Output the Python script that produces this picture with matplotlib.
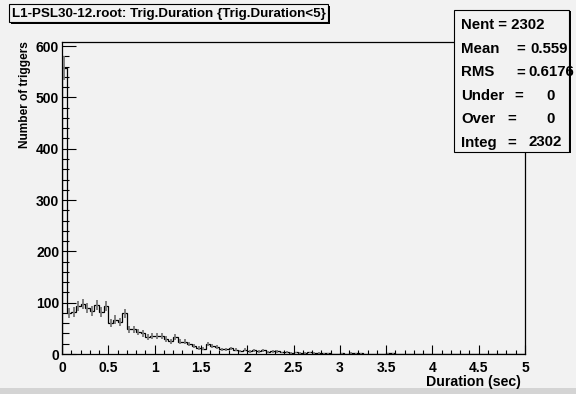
"""Trigger duration histogram for L1-PSL30-12, drawn in the ROOT canvas style."""
import numpy as np
import matplotlib
matplotlib.use("Agg")
import matplotlib.pyplot as plt
from matplotlib.patches import Rectangle
from matplotlib.ticker import MultipleLocator

W, H = 576, 394
BG = "#f2f2f2"
FONT = "Liberation Sans"

# 100 bins of 0.05 sec between 0 and 5
bin_lo = 0.0
bin_hi = 5.0
n_bins = 100
counts = [
    557, 80, 82, 93, 97, 90, 84, 95, 82, 93,
    60, 67, 62, 79, 48, 48, 43, 40, 34, 35,
    35, 35, 29, 25, 34, 24, 24, 19, 16, 12,
    10, 19, 16, 14, 9, 9, 11, 8, 6, 8,
    5, 7, 5, 7, 4, 5, 5, 3, 4, 2,
    3, 2, 2, 3, 2, 2, 1, 1, 0, 0,
    1, 0, 2, 1, 1, 0, 0, 0, 0, 0,
    1, 1, 0, 0, 0, 0, 0, 0, 0, 0,
    0, 0, 0, 0, 0, 0, 0, 0, 0, 0,
    0, 0, 0, 0, 0, 0, 0, 0, 0, 0,
]
x_ticks = [0, 0.5, 1, 1.5, 2, 2.5, 3, 3.5, 4, 4.5, 5]
x_tick_labels = ["0", "0.5", "1", "1.5", "2", "2.5", "3", "3.5", "4", "4.5", "5"]
y_ticks = [0, 100, 200, 300, 400, 500, 600]

title = "L1-PSL30-12.root: Trig.Duration {Trig.Duration<5}"
stats = [
    ("Mean", "0.559"),
    ("RMS", "0.6176"),
    ("Under", "0"),
    ("Over", "0"),
    ("Integ", "2302"),
]
n_entries = 2302


def fx(x):
    return x / W


def fy(y):
    return 1 - y / H


def box(fig, left, top, right, bottom, shadow=2):
    # ROOT-style pave: black shadow offset down/right, then the framed box
    fig.add_artist(Rectangle((fx(left + shadow), fy(bottom + shadow)),
                             (right - left) / W, (bottom - top) / H,
                             transform=fig.transFigure, facecolor="black",
                             edgecolor="none", zorder=10))
    fig.add_artist(Rectangle((fx(left), fy(bottom)),
                             (right - left) / W, (bottom - top) / H,
                             transform=fig.transFigure, facecolor=BG,
                             edgecolor="black", linewidth=0.8, zorder=11))


plt.rcParams["font.family"] = [FONT, "DejaVu Sans"]
plt.rcParams["font.weight"] = "bold"

fig = plt.figure(figsize=(W / 100, H / 100), dpi=100)
fig.patch.set_facecolor(BG)

ax = fig.add_axes([fx(62), fy(354), (525 - 62) / W, (354 - 42) / H])
ax.set_facecolor(BG)

edges = np.linspace(bin_lo, bin_hi, n_bins + 1)
centers = 0.5 * (edges[:-1] + edges[1:])
vals = np.array(counts, dtype=float)

ax.stairs(vals, edges, color="black", linewidth=0.9)
nz = vals > 0
ax.vlines(centers[nz], vals[nz] - np.sqrt(vals[nz]), vals[nz] + np.sqrt(vals[nz]),
          color="#777777", linewidth=1.3, zorder=3)

ax.set_xlim(bin_lo, bin_hi)
ax.set_ylim(0, 608)
ax.set_xticks(x_ticks)
ax.set_xticklabels(x_tick_labels)
ax.set_yticks(y_ticks)
ax.xaxis.set_minor_locator(MultipleLocator(0.1))
ax.yaxis.set_minor_locator(MultipleLocator(20))
ax.tick_params(axis="x", which="major", direction="in", length=6.5, width=0.8,
               pad=5, labelsize=10)
ax.tick_params(axis="x", which="minor", direction="in", length=3, width=0.8)
ax.tick_params(axis="y", which="major", direction="in", length=10, width=0.8,
               pad=2, labelsize=10)
ax.tick_params(axis="y", which="minor", direction="in", length=5, width=0.8)
for side in ("top", "right", "bottom", "left"):
    ax.spines[side].set_linewidth(0.9)

fig.text(fx(25), fy(41), "Number of triggers", rotation=90, ha="center",
         va="top", fontsize=8.6, fontweight="bold")
fig.text(fx(521), fy(382), "Duration (sec)", ha="right", va="center",
         fontsize=10.2, fontweight="bold")

# bottom bevel of the canvas
fig.add_artist(Rectangle((0, 0), 1, 6 / H, transform=fig.transFigure,
                         facecolor="#d4d4d4", edgecolor="none", zorder=1))

# title pave
box(fig, 9, 4, 328, 22)
fig.text(fx(12), fy(13.5), title, ha="left", va="center", fontsize=9.6,
         fontweight="bold", zorder=12)

# statistics pave
box(fig, 454, 10, 569, 152, shadow=1.5)
row_y = [25, 49, 72.5, 96, 119, 142.5]
eq_x = [516, 516, 514, 507, 507]
fs = 10.8
fig.text(fx(461), fy(row_y[0]), f"Nent = {n_entries}", ha="left", va="center",
         fontsize=fs, fontweight="bold", zorder=12)
val_right = [568, 574, 555, 555, 562]
for i, (name, value) in enumerate(stats):
    y = fy(row_y[i + 1])
    fig.text(fx(461), y, name, ha="left", va="center", fontsize=fs,
             fontweight="bold", zorder=12)
    fig.text(fx(eq_x[i]), y, "=", ha="left", va="center", fontsize=fs,
             fontweight="bold", zorder=12)
    fig.text(fx(val_right[i]), y, value, ha="right", va="center", fontsize=fs,
             fontweight="bold", zorder=12)

fig.savefig("out.png", dpi=100, facecolor=BG)
plt.close(fig)
